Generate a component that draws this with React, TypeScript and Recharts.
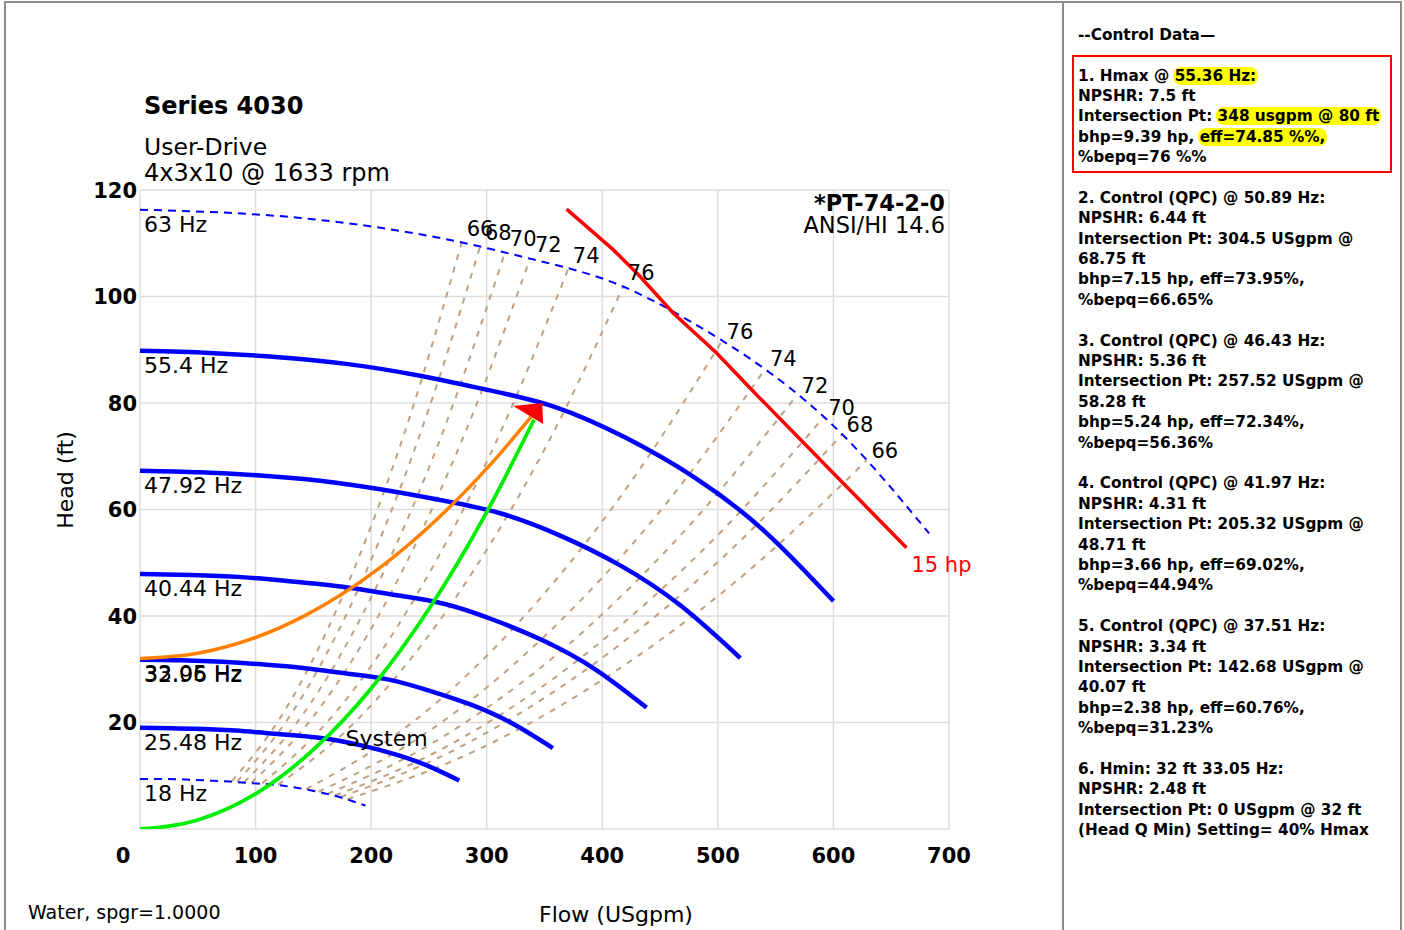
import React from 'react';
import { ComposedChart, Line, XAxis, YAxis, CartesianGrid, ReferenceDot } from 'recharts';

type P = [number, number];

const xTicks = [0, 100, 200, 300, 400, 500, 600, 700];
const yTicks = [0, 20, 40, 60, 80, 100, 120];

// Pump curves (flow USgpm, head ft)
const hz63: P[] = [[0, 116.3], [68.3, 115.8], [136.6, 114.8], [204.8, 113.0], [273.1, 110.4], [341.4, 106.9], [409.7, 102.6], [478, 95.1], [546.2, 85.5], [614.5, 72.6], [682.8, 55.5]];
const hz55: P[] = [[0, 89.8], [60, 89.4], [120, 88.6], [180, 87.3], [240, 85.2], [300, 82.5], [360, 79.2], [420, 73.5], [480, 66.0], [540, 56.0], [600, 42.8]];
const hz47: P[] = [[0, 67.3], [51.9, 67.0], [103.9, 66.4], [155.8, 65.4], [207.8, 63.8], [259.7, 61.8], [311.6, 59.3], [363.6, 55.1], [415.5, 49.5], [467.5, 42.0], [519.4, 32.1]];
const hz40: P[] = [[0, 47.9], [43.8, 47.7], [87.7, 47.3], [131.5, 46.5], [175.3, 45.5], [219.2, 44.0], [263.0, 42.3], [306.8, 39.2], [350.6, 35.2], [394.5, 29.9], [438.3, 22.8]];
const hz32: P[] = [[0, 31.8], [35.7, 31.7], [71.4, 31.4], [107.2, 30.9], [142.9, 30.2], [178.6, 29.2], [214.3, 28.1], [250.0, 26.0], [285.8, 23.4], [321.5, 19.9], [357.2, 15.2]];
const hz25: P[] = [[0, 19.0], [27.6, 18.9], [55.2, 18.8], [82.9, 18.5], [110.5, 18.0], [138.1, 17.5], [165.7, 16.8], [193.3, 15.6], [221.0, 14.0], [248.6, 11.9], [276.2, 9.1]];
const hz18: P[] = [[0, 9.4], [19.5, 9.4], [39.0, 9.3], [58.5, 9.1], [78.0, 8.9], [97.6, 8.6], [117.1, 8.3], [136.6, 7.7], [156.1, 6.9], [175.6, 5.8], [195.1, 4.4]];

// Iso-efficiency lines (left and right of BEP)
const effL66: P[] = [[79.5, 9.0], [112.5, 18.0], [145.6, 30.1], [178.6, 45.4], [211.7, 63.7], [244.5, 85.0], [278.3, 110.1]];
const effL68: P[] = [[84.0, 8.9], [118.9, 17.9], [153.9, 29.9], [188.8, 45.0], [223.7, 63.2], [258.4, 84.4], [294.1, 109.3]];
const effL70: P[] = [[90.2, 8.8], [127.7, 17.7], [165.2, 29.6], [202.6, 44.6], [240.1, 62.6], [277.4, 83.6], [315.7, 108.2]];
const effL72: P[] = [[96.4, 8.7], [136.4, 17.5], [176.5, 29.3], [216.6, 44.1], [256.6, 62.0], [296.5, 82.7], [337.4, 107.1]];
const effL74: P[] = [[105.8, 8.6], [149.7, 17.2], [193.7, 28.7], [237.6, 43.3], [281.6, 60.8], [325.3, 81.1], [370.2, 105.0]];
const effL76: P[] = [[119.4, 8.3], [169.0, 16.6], [218.6, 27.8], [268.2, 41.9], [317.8, 58.8], [367.1, 78.5], [417.8, 101.7]];
const effR76: P[] = [[143.8, 7.5], [203.5, 15.0], [263.3, 25.0], [323.0, 37.7], [382.7, 52.9], [442.2, 70.7], [503.2, 91.5]];
const effR74: P[] = [[154.5, 7.0], [218.7, 14.1], [282.9, 23.6], [347.1, 35.6], [411.3, 49.9], [475.1, 66.6], [540.7, 86.3]];
const effR72: P[] = [[162.3, 6.6], [229.7, 13.3], [297.2, 22.3], [364.7, 33.5], [432.1, 47.1], [499.2, 62.9], [568.1, 81.4]];
const effR70: P[] = [[168.9, 6.3], [239.0, 12.6], [309.3, 21.1], [379.4, 31.8], [449.6, 44.7], [519.4, 59.6], [591.1, 77.2]];
const effR68: P[] = [[173.4, 6.0], [245.5, 12.1], [317.6, 20.3], [389.6, 30.5], [461.7, 42.8], [533.4, 57.1], [607.0, 74.0]];
const effR66: P[] = [[179.6, 5.6], [254.2, 11.3], [328.9, 18.9], [403.5, 28.5], [478.1, 40.0], [552.3, 53.4], [628.6, 69.2]];
const effLabels = ['66', '68', '70', '72', '74', '76', '76', '74', '72', '70', '68', '66'];

// 15 hp power limit line
const hp15: P[] = [[369.1, 116.4], [409.4, 108.8], [432.5, 103.8], [461.3, 96.9], [498.9, 89.4], [530.5, 82.2], [605.5, 65.6], [663.2, 52.8]];

// System curves
const systemGreen: P[] = [[0, 0], [50, 1.7], [100, 6.6], [150, 14.9], [200, 26.4], [250, 41.3], [300, 59.5], [341, 76.9]];
const controlOrange: P[] = [[0, 32], [50, 33.0], [100, 35.96], [142.68, 40.07], [205.32, 48.71], [257.52, 58.28], [304.5, 68.75], [340, 77.8]];
const dutyPoint: P = [348, 80];

const speedLabels: [string, number, number][] = [
  ['63 Hz', 0, 116.3], ['55.4 Hz', 0, 89.8], ['47.92 Hz', 0, 67.3], ['40.44 Hz', 0, 47.9],
  ['32.96 Hz', 0, 31.8], ['33.05 Hz', 0, 32.0], ['25.48 Hz', 0, 19.0], ['18 Hz', 0, 9.4],
];

const FONT = '"DejaVu Sans", Verdana, sans-serif';
const TAN = '#c0a080';

const pts = (a: P[]) => a.map(([q, h]) => ({ q, h }));

const effSeries = [effL66, effL68, effL70, effL72, effL74, effL76, effR76, effR74, effR72, effR70, effR68, effR66];

const YTick = (props: any) => {
  const { x, y, payload } = props;
  if (payload.value === 0) return <g />;
  return (
    <text x={x} y={y} dy={7.5} textAnchor="end" fontFamily={FONT} fontWeight="bold" fontSize={21} fill="#000">
      {payload.value}
    </text>
  );
};

const XTick = (props: any) => {
  const { x, y, payload } = props;
  const shift = payload.value === 0 ? -17 : 0;
  return (
    <text x={x + shift} y={y} dy={34} textAnchor="middle" fontFamily={FONT} fontWeight="bold" fontSize={21} fill="#000">
      {payload.value}
    </text>
  );
};

const textShape = (label: string, dx: number, dy: number, size: number, color = '#000') => (p: any) => (
  <text x={p.cx + dx} y={p.cy + dy} fontFamily={FONT} fontSize={size} fill={color}>
    {label}
  </text>
);

const arrowShape = (p: any) => (
  <polygon
    points={`${p.cx - 29},${p.cy + 3} ${p.cx},${p.cy} ${p.cx + 1},${p.cy + 21}`}
    fill="#ff0000"
  />
);

const panelLines: React.ReactNode[] = [
  '--Control Data\u2014',
  '',
  <>1. Hmax @ <span className="hl">55.36 Hz:</span></>,
  'NPSHR: 7.5 ft',
  <>Intersection Pt: <span className="hl">348 usgpm @ 80 ft</span></>,
  <>bhp=9.39 hp, <span className="hl">eff=74.85 %%,</span></>,
  '%bepq=76 %%',
  '',
  '2. Control (QPC) @ 50.89 Hz:',
  'NPSHR: 6.44 ft',
  'Intersection Pt: 304.5 USgpm @',
  '68.75 ft',
  'bhp=7.15 hp, eff=73.95%,',
  '%bepq=66.65%',
  '',
  '3. Control (QPC) @ 46.43 Hz:',
  'NPSHR: 5.36 ft',
  'Intersection Pt: 257.52 USgpm @',
  '58.28 ft',
  'bhp=5.24 hp, eff=72.34%,',
  '%bepq=56.36%',
  '',
  '4. Control (QPC) @ 41.97 Hz:',
  'NPSHR: 4.31 ft',
  'Intersection Pt: 205.32 USgpm @',
  '48.71 ft',
  'bhp=3.66 hp, eff=69.02%,',
  '%bepq=44.94%',
  '',
  '5. Control (QPC) @ 37.51 Hz:',
  'NPSHR: 3.34 ft',
  'Intersection Pt: 142.68 USgpm @',
  '40.07 ft',
  'bhp=2.38 hp, eff=60.76%,',
  '%bepq=31.23%',
  '',
  '6. Hmin: 32 ft 33.05 Hz:',
  'NPSHR: 2.48 ft',
  'Intersection Pt: 0 USgpm @ 32 ft',
  '(Head Q Min) Setting= 40% Hmax',
];

export default function App() {
  return (
    <div style={{ position: 'fixed', left: 0, top: 0, width: 1404, height: 930, background: '#fff', overflow: 'hidden' }}>
      <style>{`.hl{background:#ffff00;border-radius:8px;padding:0 2px;margin:0 -2px;}`}</style>
      <div style={{ position: 'absolute', left: 0, top: 0 }}>
        <ComposedChart width={1064} height={930} margin={{ top: 190, right: 115, bottom: 41, left: 0 }}>
          <CartesianGrid stroke="#dcdcdc" strokeWidth={1.5} horizontalValues={yTicks} verticalValues={xTicks} />
          <XAxis
            dataKey="q"
            type="number"
            domain={[0, 700]}
            ticks={xTicks}
            allowDataOverflow
            axisLine={false}
            tickLine={false}
            tickSize={0}
            tickMargin={0}
            height={60}
            tick={<XTick />}
            interval={0}
          />
          <YAxis
            type="number"
            domain={[0, 120]}
            ticks={yTicks}
            allowDataOverflow
            axisLine={false}
            tickLine={false}
            tickSize={0}
            tickMargin={3}
            width={140}
            tick={<YTick />}
            interval={0}
          />
          {effSeries.map((s, i) => (
            <Line key={'eff' + i} data={pts(s)} dataKey="h" type="natural" stroke={TAN} strokeWidth={2}
              strokeDasharray="6 7" dot={false} activeDot={false} isAnimationActive={false} />
          ))}
          <Line data={pts(hz63)} dataKey="h" type="natural" stroke="#0000ff" strokeWidth={2} strokeDasharray="8 6" dot={false} activeDot={false} isAnimationActive={false} />
          <Line data={pts(hz18)} dataKey="h" type="natural" stroke="#0000ff" strokeWidth={2} strokeDasharray="8 6" dot={false} activeDot={false} isAnimationActive={false} />
          {[hz55, hz47, hz40, hz32, hz25].map((s, i) => (
            <Line key={'hz' + i} data={pts(s)} dataKey="h" type="natural" stroke="#0000ff" strokeWidth={4.5}
              dot={false} activeDot={false} isAnimationActive={false} />
          ))}
          <Line data={pts(hp15)} dataKey="h" type="linear" stroke="#ff0000" strokeWidth={3.5} dot={false} activeDot={false} isAnimationActive={false} />
          <Line data={pts(controlOrange)} dataKey="h" type="monotone" stroke="#ff8000" strokeWidth={3.5} dot={false} activeDot={false} isAnimationActive={false} />
          <Line data={pts(systemGreen)} dataKey="h" type="monotone" stroke="#00ee00" strokeWidth={3.8} dot={false} activeDot={false} isAnimationActive={false} />
          <ReferenceDot x={dutyPoint[0]} y={dutyPoint[1]} r={0} ifOverflow="visible" shape={arrowShape} />
          {speedLabels.map(([t, q, h]) => (
            <ReferenceDot key={t} x={q} y={h} r={0} ifOverflow="visible" shape={textShape(t, 4, 22, 22)} />
          ))}
          {effSeries.map((s, i) => {
            const top = s[s.length - 1];
            return (
              <ReferenceDot key={'el' + i} x={top[0]} y={top[1]} r={0} ifOverflow="visible"
                shape={textShape(effLabels[i], 5, i < 6 ? -7 : -3, 21)} />
            );
          })}
          <ReferenceDot x={hp15[hp15.length - 1][0]} y={hp15[hp15.length - 1][1]} r={0} ifOverflow="visible"
            shape={textShape('15 hp', 5, 24, 21, '#ff0000')} />
          <ReferenceDot x={177.9} y={15.5} r={0} ifOverflow="visible" shape={textShape('System', 0, 0, 22)} />
        </ComposedChart>
      </div>
      <svg width={1404} height={930} style={{ position: 'absolute', left: 0, top: 0, pointerEvents: 'none' }}>
        <rect x={5} y={2} width={1396} height={940} fill="none" stroke="#8c8c8c" strokeWidth={2} />
        <line x1={1063} y1={2} x2={1063} y2={930} stroke="#8c8c8c" strokeWidth={2} />
        <text x={144} y={114} fontFamily={FONT} fontWeight="bold" fontSize={24}>Series 4030</text>
        <text x={144} y={155} fontFamily={FONT} fontSize={23.5}>User-Drive</text>
        <text x={144} y={181} fontFamily={FONT} fontSize={24}>4x3x10 @ 1633 rpm</text>
        <text x={945} y={211} textAnchor="end" fontFamily={FONT} fontWeight="bold" fontSize={22.5}>*PT-74-2-0</text>
        <text x={945} y={233} textAnchor="end" fontFamily={FONT} fontSize={22.5}>ANSI/HI 14.6</text>
        <text transform="translate(73,480) rotate(-90)" textAnchor="middle" fontFamily={FONT} fontSize={22}>Head (ft)</text>
        <text x={616} y={922} textAnchor="middle" fontFamily={FONT} fontSize={22}>Flow (USgpm)</text>
        <text x={28} y={919} fontFamily={FONT} fontSize={19}>Water, spgr=1.0000</text>
      </svg>
      <div style={{ position: 'absolute', left: 1072, top: 55, width: 320, height: 118, border: '2px solid #ff0000', boxSizing: 'border-box' }} />
      <div style={{
        position: 'absolute', left: 1078, top: 24.8, fontFamily: FONT, fontWeight: 'bold', fontSize: 15.3,
        lineHeight: '20.4px', whiteSpace: 'pre', color: '#000',
      }}>
        {panelLines.map((l, i) => (
          <div key={i} style={{ height: 20.4 }}>{l === '' ? '\u00a0' : l}</div>
        ))}
      </div>
    </div>
  );
}
